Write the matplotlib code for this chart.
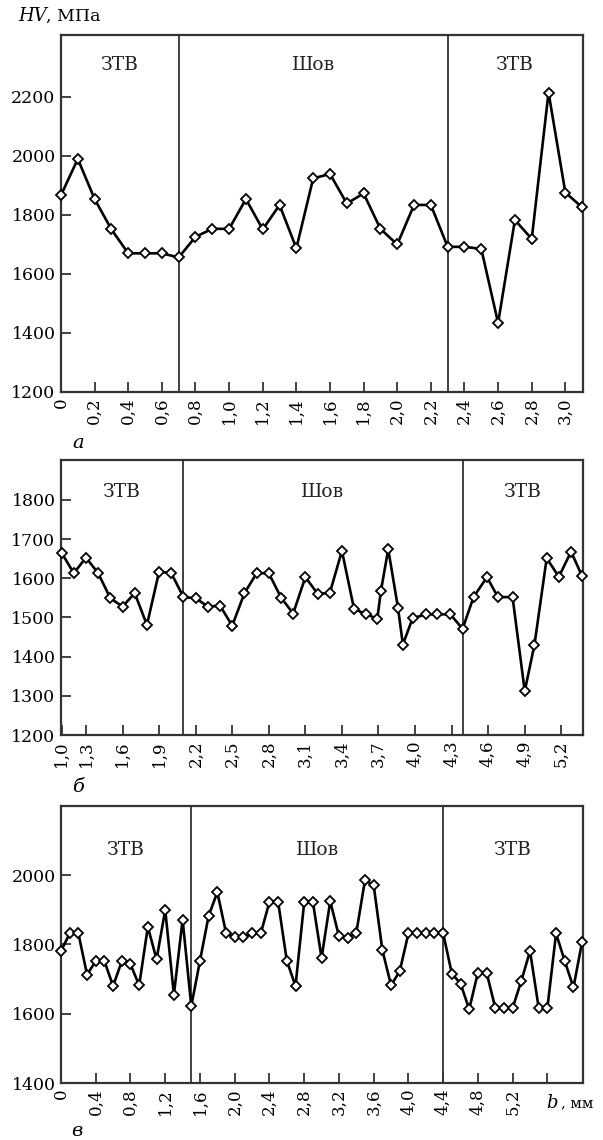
import matplotlib
matplotlib.use("Agg")
import matplotlib.pyplot as plt

plt.rcParams['font.family'] = ['DejaVu Serif']

# ---------------- data ----------------
zone_names = ['ЗТВ', 'Шов', 'ЗТВ']

# panel a
a_x = [0.0, 0.1, 0.2, 0.3, 0.4, 0.5, 0.6, 0.7, 0.8, 0.9, 1.0, 1.1, 1.2, 1.3, 1.4, 1.5,
       1.6, 1.7, 1.8, 1.9, 2.0, 2.1, 2.2, 2.3, 2.4, 2.5, 2.6, 2.7, 2.8, 2.9, 3.0, 3.1]
a_hv = [1867, 1990, 1854, 1751, 1670, 1670, 1670, 1656, 1726, 1753, 1753, 1854, 1751, 1834,
        1687, 1924, 1939, 1839, 1873, 1753, 1700, 1834, 1834, 1692, 1692, 1685, 1434, 1783,
        1719, 2215, 1876, 1826]
a_bounds = [0.7, 2.3]
a_xticks = [0.0, 0.2, 0.4, 0.6, 0.8, 1.0, 1.2, 1.4, 1.6, 1.8, 2.0, 2.2, 2.4, 2.6, 2.8, 3.0]
a_xticklabels = ['0', '0,2', '0,4', '0,6', '0,8', '1,0', '1,2', '1,4', '1,6', '1,8',
                 '2,0', '2,2', '2,4', '2,6', '2,8', '3,0']
a_yticks = [1200, 1400, 1600, 1800, 2000, 2200]

# panel b
b_x = [1.1, 1.2, 1.3, 1.4, 1.5, 1.6, 1.7, 1.8, 1.9, 2.0, 2.1, 2.2, 2.3, 2.4, 2.5, 2.6,
       2.7, 2.8, 2.9, 3.0, 3.1, 3.2, 3.3, 3.4, 3.5, 3.6, 3.69, 3.72, 3.78, 3.86, 3.90,
       3.98, 4.09, 4.18, 4.29, 4.39, 4.48, 4.59, 4.68, 4.80, 4.90, 4.98, 5.08, 5.18,
       5.28, 5.37]
b_hv = [1665, 1613, 1653, 1613, 1549, 1528, 1562, 1481, 1617, 1613, 1552, 1549, 1528,
        1530, 1479, 1562, 1613, 1613, 1551, 1510, 1603, 1561, 1562, 1670, 1521, 1509,
        1496, 1568, 1674, 1525, 1431, 1498, 1508, 1508, 1508, 1471, 1552, 1603, 1552,
        1552, 1312, 1431, 1651, 1604, 1668, 1606]
b_bounds = [2.1, 4.39]
b_xticks = [1.1, 1.3, 1.6, 1.9, 2.2, 2.5, 2.8, 3.1, 3.4, 3.7, 4.0, 4.3, 4.6, 4.9, 5.2]
b_xticklabels = ['1,0', '1,3', '1,6', '1,9', '2,2', '2,5', '2,8', '3,1', '3,4', '3,7',
                 '4,0', '4,3', '4,6', '4,9', '5,2']
b_yticks = [1200, 1300, 1400, 1500, 1600, 1700, 1800]

# panel c
c_x = [0.0, 0.1, 0.2, 0.3, 0.4, 0.5, 0.6, 0.7, 0.8, 0.9, 1.0, 1.1, 1.2, 1.3, 1.4, 1.5,
       1.6, 1.7, 1.8, 1.9, 2.0, 2.1, 2.2, 2.3, 2.4, 2.5, 2.6, 2.7, 2.8, 2.9, 3.0, 3.1,
       3.2, 3.3, 3.4, 3.5, 3.6, 3.7, 3.8, 3.9, 4.0, 4.1, 4.2, 4.3, 4.4, 4.5, 4.6, 4.7,
       4.8, 4.9, 5.0, 5.1, 5.2, 5.3, 5.4, 5.5, 5.6, 5.7, 5.8, 5.9, 6.0]
c_hv = [1781, 1832, 1832, 1713, 1752, 1752, 1680, 1752, 1743, 1682, 1851, 1757, 1900,
        1655, 1872, 1622, 1753, 1883, 1951, 1834, 1822, 1822, 1832, 1832, 1923, 1923,
        1753, 1680, 1922, 1923, 1761, 1925, 1824, 1820, 1834, 1986, 1971, 1784, 1682,
        1723, 1832, 1832, 1832, 1832, 1832, 1716, 1687, 1613, 1719, 1719, 1617, 1617,
        1617, 1695, 1781, 1617, 1617, 1832, 1752, 1676, 1808]
c_bounds = [1.5, 4.4]
c_xticks = [0.0, 0.4, 0.8, 1.2, 1.6, 2.0, 2.4, 2.8, 3.2, 3.6, 4.0, 4.4, 4.8, 5.2, 5.6]
c_xticklabels = ['0', '0,4', '0,8', '1,2', '1,6', '2,0', '2,4', '2,8', '3,2', '3,6',
                 '4,0', '4,4', '4,8', '5,2', '']
c_yticks = [1400, 1600, 1800, 2000]

# ---------------- drawing ----------------
W, H = 603, 1140
fig = plt.figure(figsize=(W / 100, H / 100), dpi=100)


def px_axes(l, t, r, b):
    return fig.add_axes([l / W, 1 - b / H, (r - l) / W, (b - t) / H])


def panel(ax, x, y, xlim, ylim, xticks, xlabels, yticks, bounds, label_y):
    ax.plot(x, y, color='black', lw=1.9, marker='D', ms=5.0, mfc='white',
            mec='black', mew=1.3, zorder=3, clip_on=False)
    ax.set_xlim(*xlim)
    ax.set_ylim(*ylim)
    ax.set_xticks(xticks)
    ax.set_xticklabels(xlabels, rotation=90, fontsize=12)
    ax.set_yticks(yticks)
    ax.set_yticklabels([str(v) for v in yticks], fontsize=12.5)
    ax.tick_params(direction='in', length=7, width=1.2, color='#222')
    ax.tick_params(axis='x', pad=4)
    ax.tick_params(axis='y', pad=4)
    for s in ax.spines.values():
        s.set_linewidth(1.6)
        s.set_color('#333')
    for bx in bounds:
        ax.axvline(bx, color='#333', lw=1.3, zorder=2)
    edges = [xlim[0]] + list(bounds) + [xlim[1]]
    for i, name in enumerate(zone_names):
        ax.text((edges[i] + edges[i + 1]) / 2, label_y, name,
                transform=ax.get_xaxis_transform(), ha='center', va='center',
                fontsize=13.5, color='#222')


ax_a = px_axes(61, 35, 583, 392)
panel(ax_a, a_x, a_hv, (0.0, 3.105), (1200, 2410), a_xticks, a_xticklabels,
      a_yticks, a_bounds, 0.915)

ax_b = px_axes(61, 460, 583, 735)
panel(ax_b, b_x, b_hv, (1.095, 5.378), (1200, 1902), b_xticks, b_xticklabels,
      b_yticks, b_bounds, 0.885)

ax_c = px_axes(61, 806, 583, 1083)
panel(ax_c, c_x, c_hv, (0.0, 6.01), (1400, 2200), c_xticks, c_xticklabels,
      c_yticks, c_bounds, 0.84)


def ftext(x, y, s, **kw):
    fig.text(x / W, 1 - y / H, s, **kw)


ftext(18, 16, 'HV', style='italic', fontsize=13, va='center', ha='left')
ftext(46, 16, ', МПа', fontsize=12.5, va='center', ha='left')
ftext(78, 443, 'а', style='italic', fontsize=14, va='center', ha='center')
ftext(78, 787, 'б', style='italic', fontsize=14, va='center', ha='center')
ftext(77, 1131, 'в', style='italic', fontsize=14, va='center', ha='center')
ftext(546, 1103, 'b', style='italic', fontsize=13, va='center', ha='left')
ftext(561, 1103, ', мм', fontsize=10.5, va='center', ha='left')

fig.savefig('out.png', dpi=100, facecolor='white')
